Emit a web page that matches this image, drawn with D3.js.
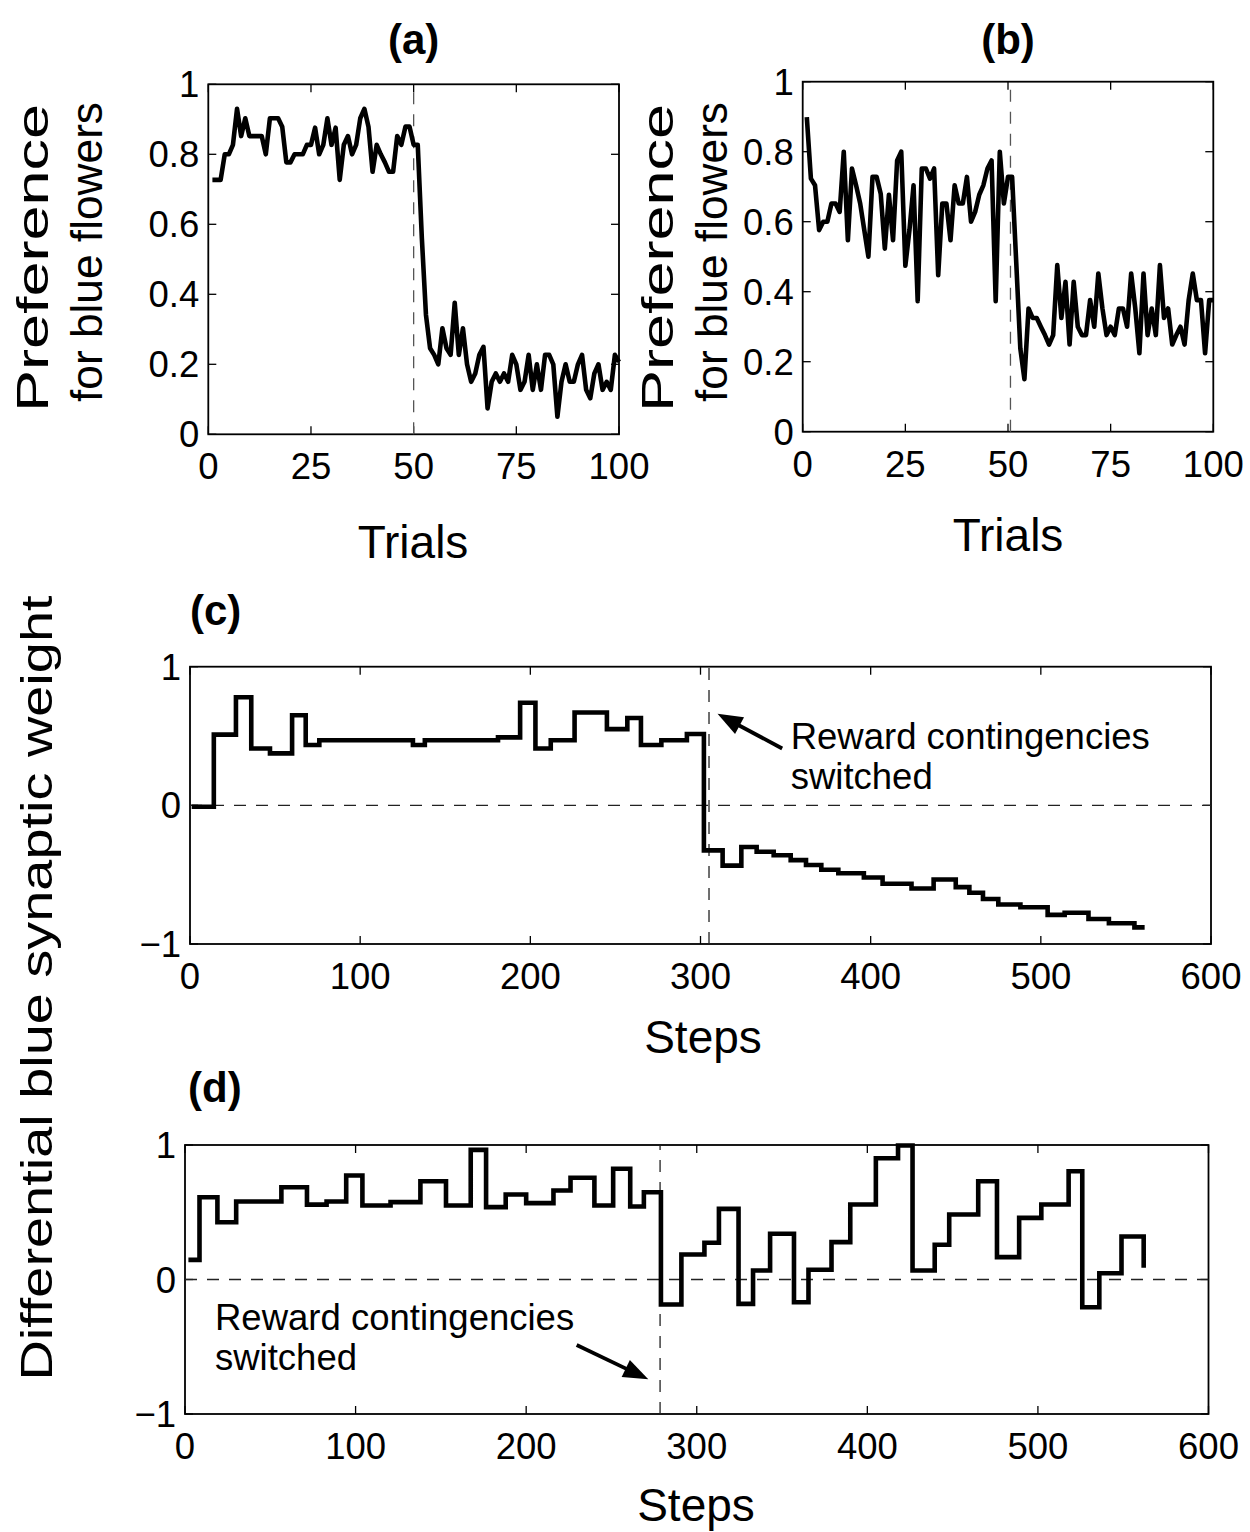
<!DOCTYPE html>
<html><head><meta charset="utf-8">
<script src="https://cdn.jsdelivr.net/npm/d3@7"></script>
<style>
body{margin:0;background:#fff}
text{font-family:"Liberation Sans",Arial,Helvetica,sans-serif;fill:#000}
</style>
</head><body>
<svg id="fig" width="1250" height="1532"></svg>
<script>
// ---------------- data ----------------
const trials = d3.range(1, 101);
const prefA = [0.727,0.727,0.727,0.80,0.80,0.827,0.93,0.852,0.903,0.852,
  0.852,0.852,0.852,0.80,0.903,0.903,0.903,0.879,0.777,0.777,
  0.80,0.80,0.80,0.827,0.827,0.876,0.80,0.827,0.903,0.827,
  0.876,0.727,0.827,0.852,0.80,0.827,0.903,0.93,0.879,0.75,
  0.827,0.80,0.777,0.75,0.75,0.852,0.827,0.879,0.879,0.827,
  0.827,0.56,0.341,0.246,0.227,0.20,0.303,0.246,0.227,0.376,
  0.227,0.303,0.20,0.15,0.174,0.227,0.25,0.074,0.15,0.174,
  0.15,0.174,0.15,0.227,0.20,0.127,0.15,0.227,0.127,0.20,
  0.127,0.227,0.227,0.20,0.05,0.15,0.20,0.15,0.15,0.20,
  0.227,0.127,0.103,0.174,0.20,0.127,0.15,0.127,0.227,0.207];
const prefB = [0.899,0.723,0.704,0.576,0.60,0.60,0.652,0.652,0.628,0.80,
  0.547,0.752,0.704,0.652,0.576,0.50,0.728,0.728,0.680,0.523,
  0.677,0.547,0.775,0.80,0.474,0.576,0.704,0.373,0.752,0.752,
  0.723,0.752,0.447,0.652,0.652,0.547,0.704,0.652,0.652,0.728,
  0.60,0.628,0.677,0.704,0.752,0.775,0.373,0.80,0.652,0.728,
  0.728,0.485,0.238,0.150,0.352,0.325,0.325,0.30,0.276,0.249,
  0.276,0.476,0.325,0.428,0.249,0.428,0.30,0.276,0.276,0.376,
  0.30,0.452,0.352,0.276,0.30,0.276,0.352,0.352,0.30,0.452,
  0.352,0.224,0.452,0.276,0.352,0.276,0.476,0.325,0.352,0.249,
  0.276,0.30,0.249,0.376,0.452,0.376,0.376,0.224,0.376,0.376];
const switchA = 50, switchB = 50.6;
const trialTicks = [0, 25, 50, 75, 100];
const prefTicks = [0, 0.2, 0.4, 0.6, 0.8, 1];

const cSteps = [1,14,27,36,47,60,68,76,131,138,181,194,203,212,226,245,257,265,277,292,
  302,313,324,333,343,353,362,371,381,396,407,424,437,450,458,466,475,488,504,514,528,540,555,561];
const cVals = [-0.01,0.51,0.78,0.41,0.375,0.65,0.435,0.47,0.435,0.47,0.49,0.74,0.41,0.47,0.67,0.55,0.63,0.435,0.47,0.515,
  -0.325,-0.435,-0.30,-0.335,-0.36,-0.395,-0.43,-0.465,-0.49,-0.52,-0.565,-0.60,-0.535,-0.59,-0.63,-0.675,-0.715,-0.735,-0.79,-0.775,-0.82,-0.85,-0.88,-0.88];
const switchC = 305;

const dSteps = [2,8.5,19,30,56.5,71.5,83,94.5,104,120.5,138,153,167.5,176.5,188,200,216,226,240,251,261,269,
  279,291,304.5,313,324.5,333,343,357,365.5,379,390,405,418,426.5,439.5,448,465,476,489,502,518,526,536,549,562];
const dVals = [0.146,0.612,0.426,0.58,0.686,0.557,0.58,0.773,0.55,0.575,0.731,0.55,0.964,0.538,0.632,0.568,0.662,0.756,0.55,0.823,0.543,0.649,
  -0.186,0.186,0.273,0.525,-0.181,0.067,0.34,-0.169,0.072,0.278,0.558,0.902,0.996,0.067,0.258,0.483,0.731,0.166,0.458,0.558,0.805,-0.206,0.047,0.32,0.087];
const switchD = 278.5;

const stepTicks = [0, 100, 200, 300, 400, 500, 600];
const weightTicks = [-1, 0, 1];

const noteLines = ["Reward contingencies", "switched"];
// annotation anchors in data coordinates
const noteC = {tip: [310, 0.66], tail: [348, 0.41], text: [353, 0.405]};
const noteD = {tip: [271.6, -0.742], tail: [229.6, -0.487], text: [17.6, -0.375]};

// ---------------- layout ----------------
const svg = d3.select("#fig");
const box = {
  a: {x0: 208.3, x1: 619, y0: 84.3, y1: 434.3},
  b: {x0: 802.7, x1: 1213.3, y0: 81.7, y1: 431.7},
  c: {x0: 190, x1: 1211, y0: 666.7, y1: 944},
  d: {x0: 185, x1: 1208.5, y0: 1145, y1: 1414}
};
const fmtNum = v => (v < 0 ? "\u2212" + Math.abs(v) : String(v));

function frame(b, xDom, yDom, xTicks, yTicks) {
  const x = d3.scaleLinear().domain(xDom).range([b.x0, b.x1]);
  const y = d3.scaleLinear().domain(yDom).range([b.y1, b.y0]);
  const g = svg.append("g");
  const tl = 8;
  const gx = g.append("g");
  xTicks.forEach(t => {
    gx.append("line").attr("x1", x(t)).attr("x2", x(t)).attr("y1", b.y1).attr("y2", b.y1 - tl);
    gx.append("line").attr("x1", x(t)).attr("x2", x(t)).attr("y1", b.y0).attr("y2", b.y0 + tl);
    g.append("text").attr("x", x(t)).attr("y", b.y1 + 45).attr("text-anchor", "middle")
      .attr("font-size", 36.5).text(fmtNum(t));
  });
  yTicks.forEach(t => {
    gx.append("line").attr("x1", b.x0).attr("x2", b.x0 + tl).attr("y1", y(t)).attr("y2", y(t));
    gx.append("line").attr("x1", b.x1).attr("x2", b.x1 - tl).attr("y1", y(t)).attr("y2", y(t));
    g.append("text").attr("x", b.x0 - 9).attr("y", y(t) + 13).attr("text-anchor", "end")
      .attr("font-size", 36.5).text(fmtNum(t));
  });
  gx.selectAll("line").attr("stroke", "#000").attr("stroke-width", 1.3);
  g.append("rect").attr("x", b.x0).attr("y", b.y0).attr("width", b.x1 - b.x0).attr("height", b.y1 - b.y0)
    .attr("fill", "none").attr("stroke", "#000").attr("stroke-width", 1.8);
  return {x, y, g};
}

function dashV(ax, xv, yDom, color) {
  ax.g.append("line").attr("x1", ax.x(xv)).attr("x2", ax.x(xv))
    .attr("y1", ax.y(yDom[0])).attr("y2", ax.y(yDom[1]))
    .attr("stroke", color).attr("stroke-width", 1.3).attr("stroke-dasharray", "12,10");
}
function dashH(ax, yv, xDom, color) {
  ax.g.append("line").attr("y1", ax.y(yv)).attr("y2", ax.y(yv))
    .attr("x1", ax.x(xDom[0])).attr("x2", ax.x(xDom[1]))
    .attr("stroke", color).attr("stroke-width", 1.3).attr("stroke-dasharray", "12,10");
}

function title(txt, x, y, anchor) {
  svg.append("text").attr("x", x).attr("y", y).attr("text-anchor", anchor)
    .attr("font-size", 42).attr("font-weight", "bold").text(txt);
}
function xlabel(txt, x, y) {
  svg.append("text").attr("x", x).attr("y", y).attr("text-anchor", "middle")
    .attr("font-size", 46).text(txt);
}
function ylabel(txt, x, cy, len) {
  svg.append("text").attr("transform", `translate(${x},${cy}) rotate(-90)`)
    .attr("text-anchor", "middle").attr("font-size", 45)
    .attr("textLength", len).attr("lengthAdjust", "spacingAndGlyphs").text(txt);
}

function arrow(ax, note) {
  const [tx, ty] = [ax.x(note.tip[0]), ax.y(note.tip[1])];
  const [sx, sy] = [ax.x(note.tail[0]), ax.y(note.tail[1])];
  const ang = Math.atan2(ty - sy, tx - sx);
  const L = 25, W = 9.5;
  const bx = tx - L * Math.cos(ang), by = ty - L * Math.sin(ang);
  ax.g.append("line").attr("x1", sx).attr("y1", sy).attr("x2", bx + 2 * Math.cos(ang)).attr("y2", by + 2 * Math.sin(ang))
    .attr("stroke", "#000").attr("stroke-width", 3.8);
  const px = -Math.sin(ang), py = Math.cos(ang);
  ax.g.append("path")
    .attr("d", `M${tx},${ty}L${bx + W * px},${by + W * py}L${bx - W * px},${by - W * py}Z`)
    .attr("fill", "#000");
  const t = ax.g.append("text").attr("x", ax.x(note.text[0])).attr("y", ax.y(note.text[1])).attr("font-size", 36.5);
  noteLines.forEach((s, i) => {
    t.append("tspan").attr("x", ax.x(note.text[0])).attr("dy", i === 0 ? 0 : 40).text(s);
  });
}

const LW = 4.6;

// ---------------- panel (a) ----------------
const A = frame(box.a, [0, 100], [0, 1], trialTicks, prefTicks);
dashV(A, switchA, [0, 1], "#555");
A.g.append("path").datum(trials.map((t, i) => [t, prefA[i]]))
  .attr("d", d3.line().x(d => A.x(d[0])).y(d => A.y(d[1])))
  .attr("fill", "none").attr("stroke", "#000").attr("stroke-width", LW).attr("stroke-linejoin", "round");
title("(a)", (box.a.x0 + box.a.x1) / 2, 54, "middle");
xlabel("Trials", 413, 558);
ylabel("Preference", 48, 258, 308);
ylabel("for blue flowers", 102, 252, 300);

// ---------------- panel (b) ----------------
const B = frame(box.b, [0, 100], [0, 1], trialTicks, prefTicks);
dashV(B, switchB, [0, 1], "#555");
B.g.append("path").datum(trials.map((t, i) => [t, prefB[i]]))
  .attr("d", d3.line().x(d => B.x(d[0])).y(d => B.y(d[1])))
  .attr("fill", "none").attr("stroke", "#000").attr("stroke-width", LW).attr("stroke-linejoin", "round");
title("(b)", (box.b.x0 + box.b.x1) / 2, 54, "middle");
xlabel("Trials", 1008, 551);
ylabel("Preference", 673, 258, 308);
ylabel("for blue flowers", 727, 252, 300);

// ---------------- panel (c) ----------------
const C = frame(box.c, [0, 600], [-1, 1], stepTicks, weightTicks);
dashH(C, 0, [0, 600], "#222");
dashV(C, switchC, [-1, 1], "#222");
C.g.append("path").datum(cSteps.map((s, i) => [s, cVals[i]]))
  .attr("d", d3.line().curve(d3.curveStepAfter).x(d => C.x(d[0])).y(d => C.y(d[1])))
  .attr("fill", "none").attr("stroke", "#000").attr("stroke-width", LW).attr("stroke-linejoin", "miter");
arrow(C, noteC);
title("(c)", 190, 625, "start");
xlabel("Steps", 703, 1053);

// ---------------- panel (d) ----------------
const D = frame(box.d, [0, 600], [-1, 1], stepTicks, weightTicks);
dashH(D, 0, [0, 600], "#222");
dashV(D, switchD, [-1, 1], "#222");
D.g.append("path").datum(dSteps.map((s, i) => [s, dVals[i]]))
  .attr("d", d3.line().curve(d3.curveStepAfter).x(d => D.x(d[0])).y(d => D.y(d[1])))
  .attr("fill", "none").attr("stroke", "#000").attr("stroke-width", LW).attr("stroke-linejoin", "miter");
arrow(D, noteD);
title("(d)", 188, 1102, "start");
xlabel("Steps", 696, 1521);

// shared y label for (c) and (d)
ylabel("Differential blue synaptic weight", 52, 988, 785);
</script>
</body></html>
